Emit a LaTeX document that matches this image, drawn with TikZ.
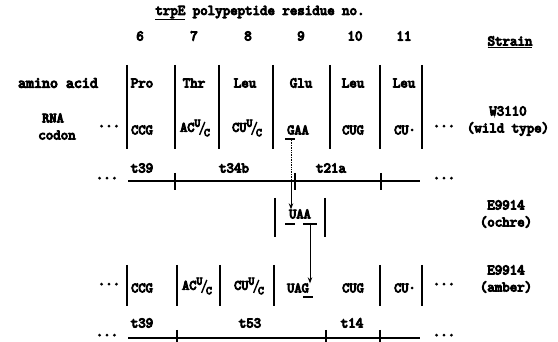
\documentclass[tikz,border=0pt]{standalone}
\usepackage{fontspec}
\newfontfamily\heavy{Latin Modern Mono}[FakeBold=7]
\usetikzlibrary{arrows.meta}
\newcommand{\cdn}{\fontsize{14}{15}\selectfont}
\newcommand{\ucx}{\raisebox{5pt}{\fontsize{11.5}{12}\selectfont U}\hspace{-1.5pt}\raisebox{-3.5pt}{\rotatebox{68}{\rule{14pt}{1.4pt}}}\hspace{-1.5pt}\raisebox{-4.5pt}{\fontsize{11.5}{12}\selectfont C}}
\begin{document}
\begin{tikzpicture}[x=1pt,y=-1pt,
  every node/.style={inner sep=0pt, font=\heavy\fontsize{14.5}{16}\selectfont},
  vline/.style={line width=1.2pt},
  mapline/.style={line width=1.8pt},
  tickmark/.style={line width=1.2pt},
  arr/.style={line width=1pt, -{Stealth[length=6pt,width=4.5pt]}}]
\useasboundingbox (0,0) rectangle (558,342);
% header
\node (title) at (260,13) {\underline{trpE} polypeptide residue no.};
\node (n6) at (140,36) {6};
\node (n7) at (194,36) {7};
\node (n8) at (248,36) {8};
\node (n9) at (301,36) {9};
\node (n10) at (355,36) {10};
\node (n11) at (404,36) {11};
\node (strain) at (510,42) {\underline{Strain}};
% row labels
\node (aa) at (58,83) {\fontsize{15.5}{16}\selectfont amino acid};
\node (rna) at (53,118) {\cdn RNA};
\node (codon) at (57,135) {codon};
% wild type row
\foreach \x in {127,175,219,273,330,380,422} \draw[vline] (\x,65) -- (\x,149);
\node (pro) at (142,83) {Pro};
\node (thr) at (194,83) {Thr};
\node (leu1) at (245,83) {Leu};
\node (glu) at (301,83) {Glu};
\node (leu2) at (353,83) {Leu};
\node (leu3) at (404,83) {Leu};
\node (dl1) at (109,128) {···};
\node (ccg1) at (142,130) {\cdn CCG};
\node (acu1) at (195,128) {\cdn AC\ucx};
\node (cuu1) at (247,128) {\cdn CU\ucx};
\node (gaa) at (298,130) {\cdn GAA};
\node (cug1) at (353,130) {\cdn CUG};
\node (cu1) at (405,130) {\cdn CU·};
\node (dr1) at (444,128) {···};
\node (w3110) at (508,111) {W3110};
\node (wild) at (508,129) {(wild type)};
% map 1
\node (md1l) at (107,180) {···};
\node (md1r) at (444,180) {···};
\draw[mapline] (128,181) -- (420,181);
\foreach \x in {175,295,381} \draw[tickmark] (\x,173) -- (\x,190);
\node (t39a) at (142,168) {t39};
\node (t34b) at (234,168) {t34b};
\node (t21a) at (331,168) {t21a};
% G underline and arrow 1
\draw[line width=1.3pt] (285,139) -- (295,139);
\coordinate (g1) at (291,140);
\coordinate (g2) at (291,181);
\draw[line width=0.7pt, densely dotted] (g1) -- (g2);
\node (uaa) at (300,214) {\cdn UAA};
\draw[arr] (g2) -- (uaa.north -| g2);
% ochre box
\draw[vline] (275,198) -- (275,237);
\draw[vline] (325,198) -- (325,237);
\draw[line width=1.3pt] (285,224) -- (295,224);
\draw[line width=1.3pt] (303,224) -- (317,224);
\node (e1) at (506,205) {E9914};
\node (ochre) at (506,222) {(ochre)};
% amber row
\foreach \x in {127,177,220,274,380,422} \draw[vline] (\x,265) -- (\x,306);
\node (dl3) at (109,286) {···};
\node (ccg3) at (142,288) {\cdn CCG};
\node (acu3) at (197,286) {\cdn AC\ucx};
\node (cuu3) at (249,286) {\cdn CU\ucx};
\node (uag) at (298,288) {\cdn UAG};
\draw[line width=1.3pt] (303,297) -- (313,297);
\node (cug3) at (353,288) {\cdn CUG};
\node (cu3) at (405,288) {\cdn CU·};
\node (dr3) at (444,286) {···};
\node (e2) at (506,270) {E9914};
\node (amber) at (506,287) {(amber)};
\coordinate (a1) at (310,224);
\draw[arr] (a1) -- (uag.north -| a1);
% map 2
\node (md2l) at (107,337) {···};
\node (md2r) at (444,337) {···};
\draw[mapline] (128,338) -- (420,338);
\foreach \x in {177,326,380} \draw[tickmark] (\x,330) -- (\x,342);
\node (t39b) at (142,323) {t39};
\node (t53) at (250,323) {t53};
\node (t14) at (352,323) {t14};
\end{tikzpicture}
\end{document}
